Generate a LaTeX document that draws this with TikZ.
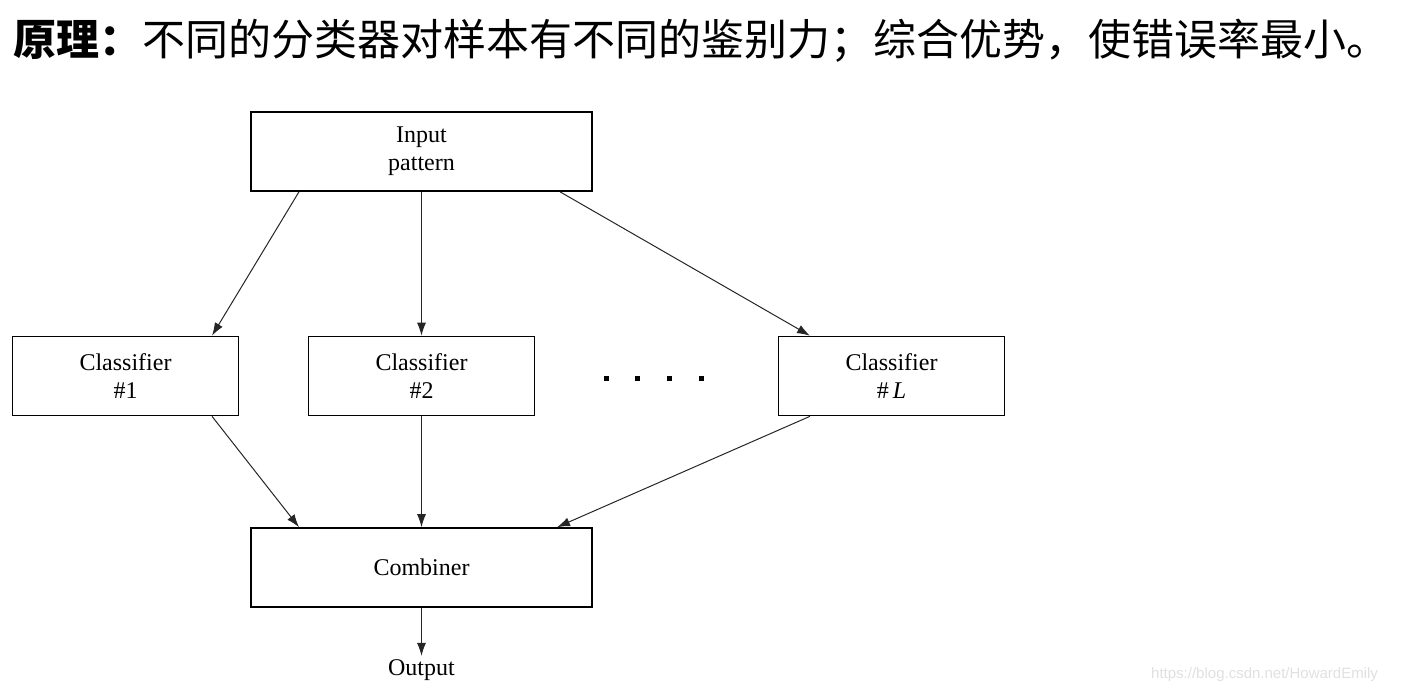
\documentclass[tikz,border=0pt]{standalone}
\usepackage{fontspec}
\setmainfont{Liberation Serif}
\newfontfamily\cjk{Noto Sans CJK SC}
\usetikzlibrary{arrows.meta}
\begin{document}
\begin{tikzpicture}[x=1pt,y=-1pt,
  box/.style={draw=black,line width=1.6pt,minimum height=79pt,inner sep=0pt,align=center,font=\fontsize{24}{28}\selectfont},
  wide/.style={box,minimum width=341pt},
  narrow/.style={box,minimum width=226pt},
  conn/.style={draw=black!85,line width=1pt,-{Latex[length=13pt,width=9pt]}},
  dotm/.style={fill=black,minimum size=5pt,inner sep=0pt}]
\useasboundingbox (0,0) rectangle (1401,691);
\node[anchor=base west,inner sep=0pt,font=\cjk\fontsize{43}{43}\selectfont] (title) at (13,55)
  {\textbf{原理：}不同的分类器对样本有不同的鉴别力；综合优势，使错误率最小。};
\node[wide] (in) at (421.5,151.5) {Input\\pattern};
\node[narrow] (c1) at (125.5,376) {Classifier\\\#1};
\node[narrow] (c2) at (421.5,376) {Classifier\\\#2};
\node[narrow] (cl) at (891.5,376) {Classifier\\\#\,\textit{L}};
\node[wide] (comb) at (421.5,567.5) {Combiner};
\node[anchor=base,inner sep=3pt,font=\fontsize{24}{28}\selectfont] (out) at (421.5,675) {Output};
\foreach \i/\x in {1/606,2/637,3/669,4/701}
  \node[dotm] (d\i) at (\x,378) {};
\draw[conn] ([xshift=-122.5pt]in.south) -- ([xshift=86.5pt]c1.north);
\draw[conn] (in.south) -- (c2.north);
\draw[conn] ([xshift=138.5pt]in.south) -- ([xshift=-81.5pt]cl.north);
\draw[conn] ([xshift=86.5pt]c1.south) -- ([xshift=-122.5pt]comb.north);
\draw[conn] (c2.south) -- (comb.north);
\draw[conn] ([xshift=-81.5pt]cl.south) -- ([xshift=135.5pt]comb.north);
\draw[conn] (comb.south) -- (out.north);
\node[anchor=base west,inner sep=0pt,text=black!12,font=\fontspec{Liberation Sans}\fontsize{15}{15}\selectfont] (wm) at (1151,678) {https://blog.csdn.net/HowardEmily};
\end{tikzpicture}
\end{document}
